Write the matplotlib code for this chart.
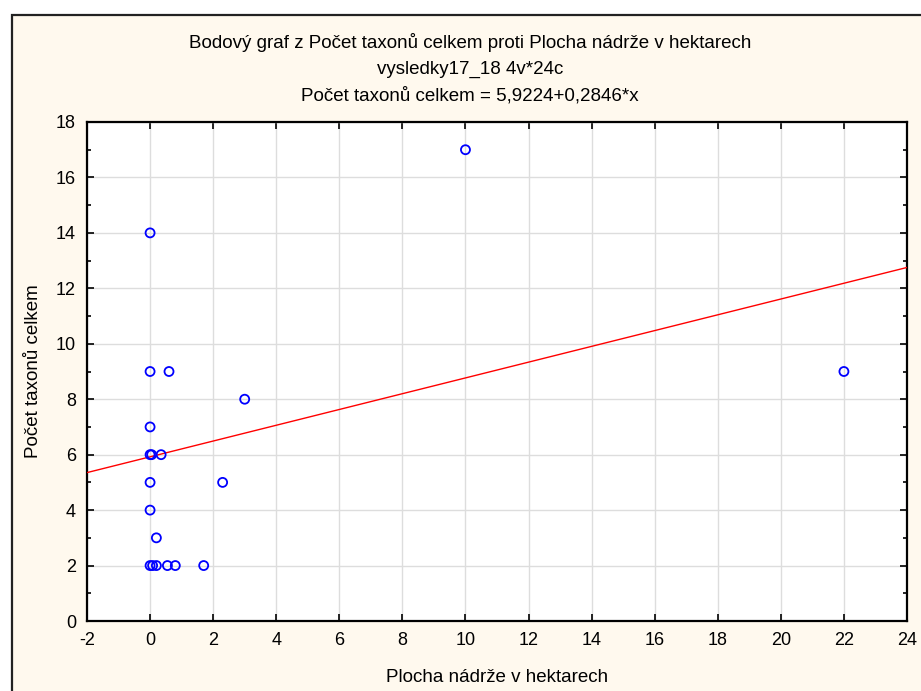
import matplotlib
matplotlib.use("Agg")
import matplotlib.pyplot as plt
from matplotlib.patches import Rectangle
from matplotlib.ticker import MultipleLocator
import numpy as np

plt.rcParams['font.family'] = ['Liberation Sans', 'DejaVu Sans']
plt.rcParams['axes.unicode_minus'] = False

# Observations: pond area (ha) vs. total number of taxa
area_ha = [10.0, 0.0, 0.0, 0.6, 22.0, 3.0, 0.0, 0.0, 0.05, 0.35,
           2.3, 0.0, 0.0, 0.2, 0.0, 0.08, 0.2, 0.55, 0.8, 1.7]
taxa = [17, 14, 9, 9, 9, 8, 7, 6, 6, 6,
        5, 5, 4, 3, 2, 2, 2, 2, 2, 2]

# Fitted regression line
intercept = 5.9224
slope = 0.2846

title_lines = [
    "Bodový graf z Počet taxonů celkem proti Plocha nádrže v hektarech",
    "vysledky17_18 4v*24c",
    "Počet taxonů celkem = 5,9224+0,2846*x",
]
xlabel = "Plocha nádrže v hektarech"
ylabel = "Počet taxonů celkem"

W, H = 921, 691
fig = plt.figure(figsize=(W / 100, H / 100), dpi=100)
fig.patch.set_facecolor("white")

# cream panel with a dark frame
panel = Rectangle((12 / W, -0.05), 1.1, 1 - 15 / H + 0.05,
                  transform=fig.transFigure, facecolor="#fff9ee",
                  edgecolor="#222222", linewidth=1.6, zorder=-5)
fig.patches.append(panel)

ax = fig.add_axes([87 / W, 1 - 621 / H, (907 - 87) / W, (621 - 122) / H])
ax.set_zorder(5)
ax.set_facecolor("white")

xs = np.array([-2, 24])
ax.plot(xs, intercept + slope * xs, color="red", lw=1.0, zorder=3)
ax.scatter(area_ha, taxa, s=42, facecolors="none", edgecolors="blue",
           linewidths=1.3, zorder=4)

ax.set_xlim(-2, 24)
ax.set_ylim(0, 18)
ax.xaxis.set_major_locator(MultipleLocator(2))
ax.yaxis.set_major_locator(MultipleLocator(2))
ax.yaxis.set_minor_locator(MultipleLocator(1))
ax.grid(True, which="major", color="#dddddd", lw=1.0, zorder=0)
ax.set_axisbelow(True)

for s in ax.spines.values():
    s.set_color("black")
    s.set_linewidth(1.6)

ax.tick_params(axis="both", which="major", direction="in", length=5,
               width=1.2, labelsize=13, colors="black", pad=8,
               top=True, right=True)
ax.tick_params(axis="y", which="minor", direction="in", length=3,
               width=1.2, right=True)

ax.set_xlabel(xlabel, fontsize=13.5, labelpad=14)
ax.set_ylabel(ylabel, fontsize=13.5, labelpad=10)

for i, line in enumerate(title_lines):
    fig.text(470 / W, 1 - (42 + 27 * i) / H, line, ha="center",
             va="center", fontsize=13.5)

fig.savefig("out.png", dpi=100, facecolor=fig.get_facecolor())
